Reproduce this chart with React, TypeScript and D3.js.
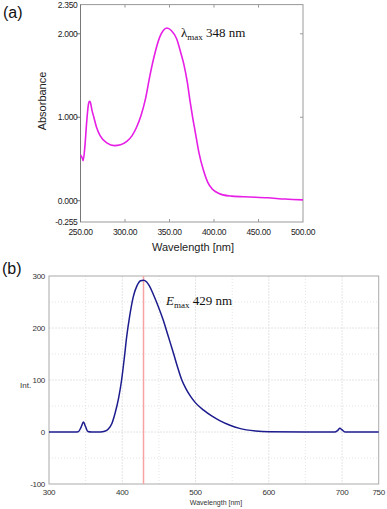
import React from 'react';
import * as d3 from 'd3';

// (a) UV-Vis absorption spectrum
const absWavelength = [250, 252, 253, 255, 257, 259, 260, 261, 263, 265, 268, 272, 280, 288, 295, 302, 308, 313, 318, 323, 328, 333, 339, 343, 347, 352, 358, 363, 366, 370, 373, 376, 379, 383, 388, 393, 398, 405, 410, 420, 440, 460, 480, 500];
const absValue = [0.55, 0.51, 0.48, 0.66, 0.95, 1.16, 1.19, 1.18, 1.08, 1.0, 0.88, 0.78, 0.69, 0.66, 0.67, 0.71, 0.78, 0.88, 1.02, 1.22, 1.5, 1.74, 1.96, 2.04, 2.07, 2.04, 1.94, 1.76, 1.64, 1.42, 1.2, 1.0, 0.82, 0.58, 0.37, 0.22, 0.14, 0.09, 0.07, 0.055, 0.045, 0.035, 0.02, 0.01];
const absYTicks = [2.35, 2.0, 1.0, 0.0, -0.255];
const absXTicks = [250, 300, 350, 400, 450, 500];

// (b) emission spectrum
const emWavelength = [300, 335, 340, 344, 347, 350, 353, 358, 370, 376, 381, 386, 390, 395, 399, 403, 406, 410, 415, 420, 425, 429, 433, 437, 442, 449, 456, 463, 470, 475, 481, 487, 493, 500, 511, 522, 533, 547, 560, 582, 600, 650, 690, 694, 697, 700, 704, 750];
const emValue = [0, 0, 0.5, 10, 19, 10, 1, 0, 0, 1.5, 6, 17, 35, 65, 99, 145, 183, 222, 260, 281, 291, 292, 289, 281, 266, 242, 215, 183, 151, 127, 101, 83, 69, 56, 42, 31, 22, 13, 7, 2, 0.5, 0, 0, 3, 7, 4, 0, 0];
const emYTicks = [300, 200, 100, 0, -100];
const emXTicks = [300, 400, 500, 600, 700, 750];
const emGridX = [350, 400, 450, 500, 550, 600, 650, 700];
const emGridY = [250, 200, 150, 100, 50, 0, -50];
const emPeak = 429;

const sans = 'Liberation Sans, Arial, sans-serif';
const serif = 'Liberation Serif, Times New Roman, serif';

export default function App() {
  // panel (a) scales
  const xa = d3.scaleLinear().domain([250, 500]).range([80.5, 303]);
  const ya = d3.scaleLinear().domain([-0.255, 2.35]).range([222, 4.6]);
  const lineA = d3.line<number>()
    .x((_, i) => xa(absWavelength[i]))
    .y(d => ya(d))
    .curve(d3.curveMonotoneX);

  // panel (b) scales
  const xb = d3.scaleLinear().domain([300, 750]).range([49, 378.7]);
  const yb = d3.scaleLinear().domain([-100, 300]).range([484, 276]);
  const lineB = d3.line<number>()
    .x((_, i) => xb(emWavelength[i]))
    .y(d => yb(d))
    .curve(d3.curveMonotoneX);

  const fmtA = (v: number) => v.toFixed(3);

  return (
    <svg width={387} height={509} style={{ position: 'absolute', left: 0, top: 0, background: '#fff' }}>
      {/* ---------- (a) ---------- */}
      <text x={3} y={18} fontFamily={sans} fontSize={16} fill="#111">(a)</text>
      <rect x={xa(250)} y={ya(2.35)} width={xa(500) - xa(250)} height={ya(-0.255) - ya(2.35)}
        fill="none" stroke="#999" strokeWidth={1} />
      <line x1={xa(250)} x2={xa(250)} y1={ya(2.35)} y2={ya(-0.255)} stroke="#777" />
      {absYTicks.map(t => (
        <g key={'ay' + t}>
          {t !== 2.35 && t !== -0.255 && (
            <line x1={xa(250) - 4} x2={xa(250)} y1={ya(t)} y2={ya(t)} stroke="#777" />
          )}
          {t !== 2.35 && t !== -0.255 && t !== 0 && (
            <line x1={xa(500) - 3} x2={xa(500)} y1={ya(t)} y2={ya(t)} stroke="#999" />
          )}
          <text x={xa(250) - 3} y={ya(t) + 3} textAnchor="end" fontFamily={sans} fontSize={8.5}
            fill="#222" letterSpacing={-0.3}>{fmtA(t)}</text>
        </g>
      ))}
      {absXTicks.map(t => (
        <g key={'ax' + t}>
          {t !== 250 && t !== 500 && (
            <>
              <line x1={xa(t)} x2={xa(t)} y1={ya(-0.255)} y2={ya(-0.255) - 3} stroke="#999" />
              <line x1={xa(t)} x2={xa(t)} y1={ya(2.35)} y2={ya(2.35) + 3} stroke="#999" />
            </>
          )}
          <text x={xa(t)} y={234.5} textAnchor="middle" fontFamily={sans} fontSize={8.5}
            fill="#222" letterSpacing={-0.3}>{t.toFixed(2)}</text>
        </g>
      ))}
      <text x={193} y={251} textAnchor="middle" fontFamily={sans} fontSize={11} fill="#222">Wavelength [nm]</text>
      <text transform="translate(46,101) rotate(-90)" textAnchor="middle" fontFamily={sans} fontSize={11} fill="#222">Absorbance</text>
      <path d={lineA(absValue) ?? ''} fill="none" stroke="#e61ee6" strokeWidth={1.6} />
      <text x={181} y={36.5} fontFamily={serif} fontSize={13} fill="#111">
        λ<tspan fontSize={9} dy={3}>max</tspan><tspan dy={-3}> 348 nm</tspan>
      </text>

      {/* ---------- (b) ---------- */}
      <text x={2} y={274} fontFamily={sans} fontSize={16} fill="#111">(b)</text>
      {emGridX.map(g => (
        <line key={'gx' + g} x1={xb(g)} x2={xb(g)} y1={yb(300)} y2={yb(-100)}
          stroke="#ddd" strokeWidth={0.8} strokeDasharray={g % 100 === 0 ? '2,1' : '1,2'} />
      ))}
      {emGridY.map(g => (
        <line key={'gy' + g} x1={xb(300)} x2={xb(750)} y1={yb(g)} y2={yb(g)}
          stroke="#ddd" strokeWidth={0.8} strokeDasharray={g % 100 === 0 ? '2,1' : '1,2'} />
      ))}
      <rect x={xb(300)} y={yb(300)} width={xb(750) - xb(300)} height={yb(-100) - yb(300)}
        fill="none" stroke="#aaa" strokeWidth={1} />
      <line x1={xb(emPeak)} x2={xb(emPeak)} y1={yb(300)} y2={yb(-100)} stroke="#f5a3a3" strokeWidth={1.5} />
      {emYTicks.map(t => (
        <text key={'by' + t} x={45} y={yb(t) + 3} textAnchor="end" fontFamily={sans} fontSize={8}
          fill="#333" letterSpacing={-0.3}>{t}</text>
      ))}
      {emXTicks.map(t => (
        <text key={'bx' + t} x={xb(t)} y={495} textAnchor="middle" fontFamily={sans} fontSize={8}
          fill="#333" letterSpacing={-0.3}>{t}</text>
      ))}
      <text x={20} y={388} fontFamily={sans} fontSize={8} fill="#333">Int.</text>
      <text x={216} y={505} textAnchor="middle" fontFamily={sans} fontSize={7} fill="#333">Wavelength [nm]</text>
      <path d={lineB(emValue) ?? ''} fill="none" stroke="#1c1c8e" strokeWidth={1.5} />
      <text x={166} y={305} fontFamily={serif} fontSize={13} fill="#111">
        <tspan fontStyle="italic">E</tspan><tspan fontSize={9} dy={3}>max</tspan><tspan dy={-3}> 429 nm</tspan>
      </text>
    </svg>
  );
}
